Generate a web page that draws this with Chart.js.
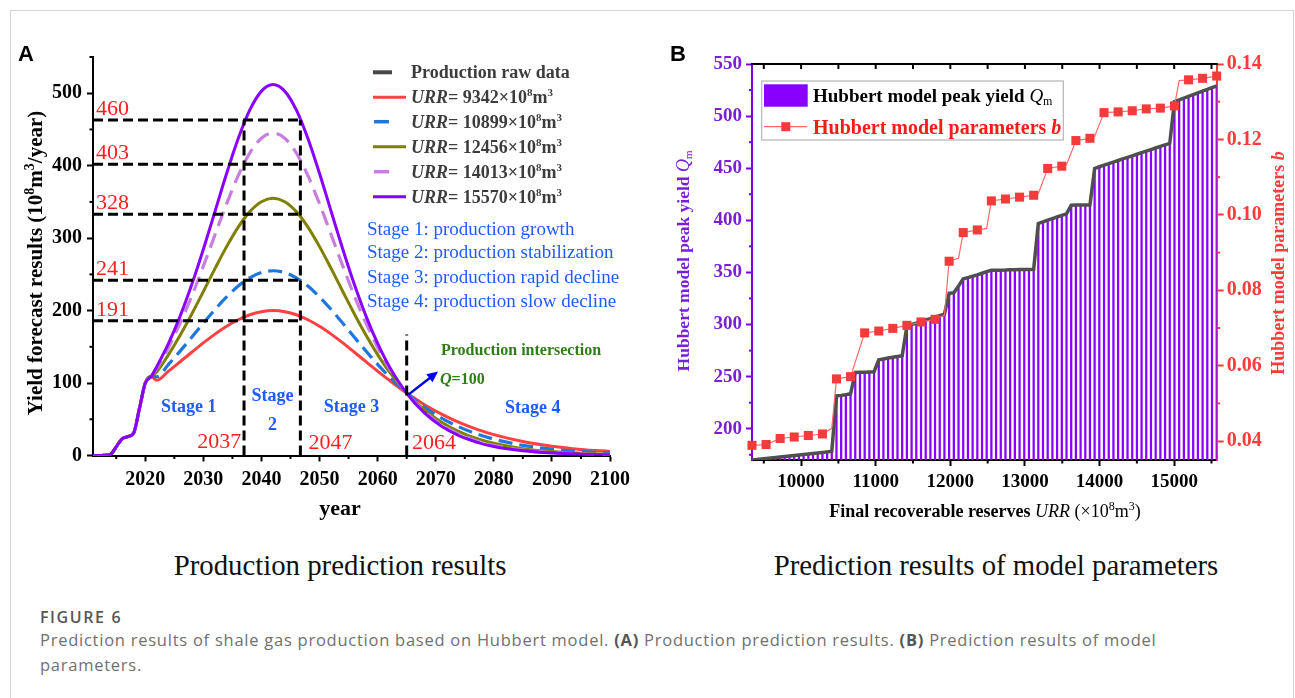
<!DOCTYPE html>
<html>
<head>
<meta charset="utf-8">
<script src="https://cdn.jsdelivr.net/npm/chart.js@4.4.1/dist/chart.umd.min.js"></script>
<style>
html, body { margin: 0; padding: 0; background: #fff; }
body { width: 1295px; height: 698px; position: relative; overflow: hidden; }
.frame { position: absolute; left: 10px; top: 10px; width: 1282px; height: 720px; border: 1px solid #d6d6d6; }
#boxA { position: absolute; left: 0; top: 0; width: 650px; height: 530px; }
#boxB { position: absolute; left: 650px; top: 0; width: 645px; height: 530px; }
.sub { position: absolute; top: 548px; line-height: 34px; font-family: "Liberation Serif", serif; font-size: 28.8px; color: #111; white-space: nowrap; transform: translateX(-50%); }
.figno { position: absolute; left: 40px; top: 607px; line-height: 20px; font-family: "Open Sans", sans-serif; font-weight: 600; font-size: 16px; color: #555; letter-spacing: 1.6px; }
.cap { position: absolute; left: 40px; top: 627px; width: 1180px; font-family: "Open Sans", sans-serif; font-size: 16.5px; letter-spacing: 0.75px; line-height: 25px; color: #707070; }
.cap b { color: #555; }
</style>
</head>
<body>
<div class="frame"></div>
<div id="boxA"><canvas id="chartA"></canvas></div>
<div id="boxB"><canvas id="chartB"></canvas></div>
<div class="sub" style="left:340px">Production prediction results</div>
<div class="sub" style="left:996px">Prediction results of model parameters</div>
<div class="figno">FIGURE 6</div>
<div class="cap">Prediction results of shale gas production based on Hubbert model. <b>(A)</b> Production prediction results. <b>(B)</b> Prediction results of model parameters.</div>

<script>
// ---------- panel A : production forecast ----------
const rawYears = [2011, 2012, 2013, 2014, 2015, 2016, 2017, 2018, 2019, 2020, 2021];
const rawProd = [0, 0, 0.3, 1.5, 12, 23, 26, 31, 65, 100, 109];

const fcYears = [2022, 2024, 2026, 2028, 2030, 2032, 2034, 2036, 2038, 2040, 2042,
  2044, 2046, 2048, 2050, 2052, 2054, 2056, 2058, 2060, 2062,
  2065, 2068, 2071, 2074, 2077, 2080, 2085, 2090, 2095, 2100];
const fc9342 = [103.8, 116.4, 129.4, 142.5, 155.4, 167.5, 178.3, 187.4, 194.3, 198.5, 200,
  198.5, 194.3, 187.4, 178.3, 167.5, 155.4, 142.5, 129.4, 116.4, 103.8,
  86.2, 70.5, 57.1, 45.7, 36.4, 28.8, 19.3, 12.8, 8.4, 5.5];
const fc10899 = [108.7, 125.8, 144.1, 163.2, 182.6, 201.5, 218.8, 233.8, 245.3, 252.5, 255,
  252.5, 245.3, 233.8, 218.8, 201.5, 182.6, 163.2, 144.1, 125.8, 108.7,
  86.1, 67.1, 51.7, 39.5, 30.0, 22.6, 14.0, 8.7, 5.3, 3.3];
const fc12456 = [115.7, 139.3, 166.0, 195.3, 226.4, 258.0, 288.3, 315.3, 336.6, 350.3, 355,
  350.3, 336.6, 315.3, 288.3, 258.0, 226.4, 195.3, 166.0, 139.3, 115.7,
  86.2, 63.2, 45.9, 33.1, 23.7, 16.9, 9.5, 5.4, 3.0, 1.7];
const fc14013 = [120.6, 149.1, 182.4, 220.1, 261.4, 304.7, 347.4, 386.2, 417.5, 437.9, 445,
  437.9, 417.5, 386.2, 347.4, 304.7, 261.4, 220.1, 182.4, 149.1, 120.6,
  86.3, 61.0, 42.6, 29.6, 20.4, 14.0, 7.5, 4.0, 2.1, 1.1];
const fc15570 = [123.0, 154.6, 192.3, 235.9, 284.7, 336.8, 389.1, 437.4, 476.9, 502.9, 512,
  502.9, 476.9, 437.4, 389.1, 336.8, 284.7, 235.9, 192.3, 154.6, 123.0,
  85.9, 59.2, 40.4, 27.4, 18.5, 12.4, 6.4, 3.3, 1.7, 0.9];
const urrNames = ['9342', '10899', '12456', '14013', '15570'];

const guideLevels = [463, 402, 333, 242, 186];
const guideLabels = ['460', '403', '328', '241', '191'];
const stageBounds = [2037, 2046.7];
const crossYear = 2065;
const crossTop = 167;
const stageYearLabels = ['2037', '2047', '2064'];

const aYearTicks = [2020, 2030, 2040, 2050, 2060, 2070, 2080, 2090, 2100];
const aYearMinor = [2015, 2025, 2035, 2045, 2055, 2065, 2075, 2085, 2095];
const aProdTicks = [0, 100, 200, 300, 400, 500];
const aProdMinor = [50, 150, 250, 350, 450, 550];

// ---------- panel B : model parameters ----------
const urrGrid = [9342, 9405, 9468, 9531, 9594, 9657, 9719, 9782, 9845, 9908,
  9971, 10034, 10097, 10160, 10223, 10286, 10349, 10411, 10474, 10537,
  10600, 10663, 10726, 10789, 10852, 10915, 10978, 11041, 11103, 11166,
  11229, 11292, 11355, 11418, 11481, 11544, 11607, 11670, 11733, 11795,
  11858, 11921, 11984, 12047, 12110, 12173, 12236, 12299, 12362, 12425,
  12487, 12550, 12613, 12676, 12739, 12802, 12865, 12928, 12991, 13054,
  13117, 13179, 13242, 13305, 13368, 13431, 13494, 13557, 13620, 13683,
  13746, 13809, 13871, 13934, 13997, 14060, 14123, 14186, 14249, 14312,
  14375, 14438, 14501, 14563, 14626, 14689, 14752, 14815, 14878, 14941,
  15004, 15067, 15130, 15193, 15255, 15318, 15381, 15444, 15507, 15570];
const peakQm = [170, 170.5, 171, 171.5, 171.9, 172.4, 172.9, 173.4, 173.9, 174.4,
  174.9, 175.3, 175.8, 176.3, 176.8, 177.3, 177.8, 178.3, 231.5, 232,
  232.7, 233.5, 254, 254.2, 254.3, 254.5, 254.7, 266.2, 267, 267.8,
  268.6, 269.4, 270, 298.5, 300, 301.4, 302.9, 304.3, 305.7, 307.2,
  308.6, 310, 330, 330.5, 337, 343.8, 345, 346.3, 347.6, 349.2,
  350.8, 352, 352.1, 352.2, 352.3, 352.5, 352.6, 352.7, 352.8, 352.9,
  353, 397, 398.6, 400.1, 401.6, 403.2, 404.7, 406.2, 414.5, 414.7,
  414.7, 414.7, 414.7, 449.8, 451.4, 452.9, 454.4, 455.9, 457.4, 458.9,
  460.4, 461.9, 463.4, 464.9, 466.4, 467.9, 469.4, 470.9, 472.4, 473.9,
  514, 515.5, 517.2, 518.9, 520.6, 522.3, 524, 525.6, 527.3, 529];
// b is known at these positions of the URR grid (markers on every 3rd one)
const bIdx = [0, 3, 6, 9, 12, 15, 17, 18, 21, 24, 27, 30, 33, 36, 39, 41, 42, 44, 45, 48,
  50, 51, 54, 57, 60, 61, 63, 66, 67, 69, 72, 73, 75, 78, 81, 84, 87, 90, 91, 93, 96, 99];
const bVal = [0.0389, 0.0391, 0.0407, 0.0411, 0.0415, 0.0419, 0.0434, 0.0565, 0.0571, 0.0687,
  0.0692, 0.0699, 0.0707, 0.0716, 0.0723, 0.0734, 0.0877, 0.0885, 0.0953, 0.0960,
  0.0964, 0.1037, 0.1042, 0.1047, 0.1052, 0.1056, 0.1123, 0.1129, 0.1133, 0.1197,
  0.1203, 0.1208, 0.1271, 0.1273, 0.1276, 0.1281, 0.1283, 0.1289, 0.1356, 0.1358,
  0.1362, 0.1368];

const bUrrTicks = [10000, 11000, 12000, 13000, 14000, 15000];
const bUrrMinor = [9500, 10500, 11500, 12500, 13500, 14500, 15500];
const bQmTicks = [200, 250, 300, 350, 400, 450, 500, 550];
const bQmMinor = [175, 225, 275, 325, 375, 425, 475, 525];
const bParTicks = [0.04, 0.06, 0.08, 0.10, 0.12, 0.14];
const bParMinor = [0.05, 0.07, 0.09, 0.11, 0.13];

const SERIF = '"Liberation Serif", "Times New Roman", serif';
const SANS = '"Liberation Sans", Arial, sans-serif';
function font(size, style) {
    return (style ? style + ' ' : '') + size + 'px ' + SERIF;
}

// draws a run of text pieces (bold/italic/superscript) one after another
function rich(ctx, parts, x, y, align) {
    let w = 0;
    for (const p of parts) { ctx.font = p.f; w += ctx.measureText(p.t).width; }
    let cx = align === 'center' ? x - w / 2 : (align === 'right' ? x - w : x);
    ctx.textAlign = 'left';
    ctx.textBaseline = 'alphabetic';
    for (const p of parts) {
        ctx.font = p.f;
        ctx.fillText(p.t, cx, y + (p.dy || 0));
        cx += ctx.measureText(p.t).width;
    }
}

function urrParts(v, size) {
    return [
        { t: 'URR', f: font(size, 'italic bold') },
        { t: '= ' + v + '×10', f: font(size, 'bold') },
        { t: '8', f: font(Math.round(size * 0.62), 'bold'), dy: -size * 0.4 },
        { t: 'm', f: font(size, 'bold') },
        { t: '3', f: font(Math.round(size * 0.62), 'bold'), dy: -size * 0.4 }
    ];
}

function seg(ctx, x1, y1, x2, y2) {
    ctx.beginPath();
    ctx.moveTo(x1, y1);
    ctx.lineTo(x2, y2);
    ctx.stroke();
}

function minorTicks(ctx, scale, values, len, side, color) {
    ctx.save();
    ctx.strokeStyle = color;
    ctx.lineWidth = 2;
    values.forEach(v => {
        const p = scale.getPixelForValue(v);
        if (side === 'bottom') seg(ctx, p, scale.top, p, scale.top + len);
        if (side === 'top') seg(ctx, p, scale.top, p, scale.top - len);
        if (side === 'left') seg(ctx, scale.right, p, scale.right - len, p);
        if (side === 'right') seg(ctx, scale.left, p, scale.left + len, p);
    });
    ctx.restore();
}

function series(vals) {
    return rawYears.map((yr, i) => ({ x: yr, y: rawProd[i] }))
        .concat(fcYears.map((yr, i) => ({ x: yr, y: vals[i] })));
}

const colRed = '#ff4141';
const colBlue = '#1f77dd';
const colOlive = '#7f7f00';
const colLilac = '#c77ee0';
const colPurple = '#8a00ff';
const stageBlue = '#1f5cff';

const annotateA = {
    id: 'annotateA',
    afterDatasetsDraw(chart) {
        const { ctx } = chart;
        const x = chart.scales.x, y = chart.scales.y;
        ctx.save();
        ctx.strokeStyle = '#000';
        ctx.lineWidth = 3;
        ctx.setLineDash([10, 5]);
        const xr = x.getPixelForValue(stageBounds[1]);
        guideLevels.forEach(v => {
            const py = y.getPixelForValue(v);
            seg(ctx, x.left, py, xr, py);
        });
        const topY = y.getPixelForValue(guideLevels[0]);
        stageBounds.forEach(yr => {
            const px = x.getPixelForValue(yr);
            seg(ctx, px, y.bottom, px, topY);
        });
        const cx = x.getPixelForValue(crossYear);
        seg(ctx, cx, y.bottom, cx, y.getPixelForValue(crossTop));
        ctx.setLineDash([]);

        // red value labels over the guides
        ctx.fillStyle = '#ff1f1f';
        ctx.font = font(22);
        ctx.textAlign = 'left';
        ctx.textBaseline = 'alphabetic';
        guideLevels.forEach((v, i) => {
            ctx.fillText(guideLabels[i], x.left + 3, y.getPixelForValue(v) - 5);
        });
        ctx.textBaseline = 'middle';
        ctx.textAlign = 'right';
        ctx.fillText(stageYearLabels[0], x.getPixelForValue(2036.5), y.getPixelForValue(19));
        ctx.textAlign = 'left';
        ctx.fillText(stageYearLabels[1], x.getPixelForValue(2048.1), y.getPixelForValue(17));
        ctx.fillText(stageYearLabels[2], x.getPixelForValue(2065.9), y.getPixelForValue(17));

        // stage names
        ctx.fillStyle = stageBlue;
        ctx.font = font(18, 'bold');
        ctx.textAlign = 'center';
        ctx.fillText('Stage 1', x.getPixelForValue(2027.5), y.getPixelForValue(66));
        ctx.fillText('Stage', x.getPixelForValue(2041.9), y.getPixelForValue(81));
        ctx.fillText('2', x.getPixelForValue(2041.9), y.getPixelForValue(42));
        ctx.fillText('Stage 3', x.getPixelForValue(2055.5), y.getPixelForValue(67));
        ctx.fillText('Stage 4', x.getPixelForValue(2086.7), y.getPixelForValue(65.5));

        // arrow at the intersection
        const ax1 = x.getPixelForValue(2065.3), ay1 = y.getPixelForValue(84);
        const ax2 = x.getPixelForValue(2070.4), ay2 = y.getPixelForValue(116);
        ctx.strokeStyle = '#0000f0';
        ctx.fillStyle = '#0000f0';
        ctx.lineWidth = 2.5;
        const ang = Math.atan2(ay2 - ay1, ax2 - ax1);
        seg(ctx, ax1, ay1, ax2 - 6 * Math.cos(ang), ay2 - 6 * Math.sin(ang));
        ctx.beginPath();
        ctx.moveTo(ax2, ay2);
        ctx.lineTo(ax2 - 11 * Math.cos(ang) + 5 * Math.sin(ang), ay2 - 11 * Math.sin(ang) - 5 * Math.cos(ang));
        ctx.lineTo(ax2 - 11 * Math.cos(ang) - 5 * Math.sin(ang), ay2 - 11 * Math.sin(ang) + 5 * Math.cos(ang));
        ctx.closePath();
        ctx.fill();
        ctx.restore();
    },
    afterDraw(chart) {
        const { ctx } = chart;
        const x = chart.scales.x, y = chart.scales.y;
        ctx.save();
        minorTicks(ctx, x, aYearMinor, 3.5, 'bottom', '#000');
        minorTicks(ctx, y, aProdMinor, 3.5, 'left', '#000');

        // panel letter
        ctx.fillStyle = '#000';
        ctx.font = 'bold 22px ' + SANS;
        ctx.textAlign = 'left';
        ctx.textBaseline = 'alphabetic';
        ctx.fillText('A', 18, 61);

        // axis titles
        ctx.font = font(22, 'bold');
        ctx.textAlign = 'center';
        ctx.fillText('year', 340, 515);
        ctx.save();
        ctx.translate(35, 263);
        ctx.rotate(-Math.PI / 2);
        rich(ctx, [
            { t: 'Yield forecast results (10', f: font(21, 'bold') },
            { t: '8', f: font(14, 'bold'), dy: -8 },
            { t: 'm', f: font(21, 'bold') },
            { t: '3', f: font(14, 'bold'), dy: -8 },
            { t: '/year)', f: font(21, 'bold') }
        ], 0, 7, 'center');
        ctx.restore();

        // legend
        const rows = [72.3, 97.3, 121.7, 146.7, 171.7, 196.7];
        const sw = [
            { c: '#474747', x1: 373, x2: 392, w: 4 },
            { c: colRed, x1: 373, x2: 406, w: 3 },
            { c: colBlue, x1: 374, x2: 389, w: 3.5 },
            { c: colOlive, x1: 373, x2: 406, w: 3 },
            { c: colLilac, x1: 374, x2: 389, w: 3.5 },
            { c: colPurple, x1: 373, x2: 406, w: 3 }
        ];
        rows.forEach((ry, i) => {
            ctx.strokeStyle = sw[i].c;
            ctx.lineWidth = sw[i].w;
            seg(ctx, sw[i].x1, ry, sw[i].x2, ry);
            ctx.fillStyle = '#3c3c3c';
            if (i === 0) {
                rich(ctx, [{ t: 'Production raw data', f: font(18, 'bold') }], 411, ry + 6, 'left');
            } else {
                rich(ctx, urrParts(urrNames[i - 1], 18), 411, ry + 6, 'left');
            }
        });

        // stage descriptions
        ctx.fillStyle = stageBlue;
        ctx.font = font(19);
        ctx.textAlign = 'left';
        ctx.textBaseline = 'middle';
        ['Stage 1: production growth', 'Stage 2: production stabilization',
            'Stage 3: production rapid decline', 'Stage 4: production slow decline']
            .forEach((s, i) => ctx.fillText(s, 367, [230, 253.5, 277.7, 301.7][i]));

        // intersection note
        ctx.fillStyle = '#2f7d17';
        ctx.font = font(16, 'bold');
        ctx.fillText('Production intersection', 441, 351);
        rich(ctx, [
            { t: 'Q', f: font(16, 'italic bold') },
            { t: '=100', f: font(16, 'bold') }
        ], 440, 384, 'left');
        ctx.restore();
    }
};

const chartA = new Chart(document.getElementById('chartA'), {
    type: 'line',
    data: {
        datasets: [
            { label: 'Production raw data', data: rawYears.map((yr, i) => ({ x: yr, y: rawProd[i] })), borderColor: '#474747', borderWidth: 3, order: 6 },
            { label: 'URR=9342', data: series(fc9342), borderColor: colRed, borderWidth: 3, order: 5 },
            { label: 'URR=10899', data: series(fc10899), borderColor: colBlue, borderWidth: 3.2, borderDash: [14, 7], order: 4 },
            { label: 'URR=12456', data: series(fc12456), borderColor: colOlive, borderWidth: 3, order: 3 },
            { label: 'URR=14013', data: series(fc14013), borderColor: colLilac, borderWidth: 3.2, borderDash: [15, 8], order: 2 },
            { label: 'URR=15570', data: series(fc15570), borderColor: colPurple, borderWidth: 3, order: 1 }
        ]
    },
    options: {
        responsive: true,
        maintainAspectRatio: false,
        animation: false,
        events: [],
        layout: { padding: { top: 57, right: 40, left: 0, bottom: 0 } },
        elements: { point: { radius: 0 }, line: { cubicInterpolationMode: 'monotone', fill: false } },
        plugins: { legend: { display: false }, tooltip: { enabled: false } },
        scales: {
            x: {
                type: 'linear', min: 2011, max: 2100,
                afterBuildTicks: s => { s.ticks = aYearTicks.map(v => ({ value: v })); },
                afterFit: s => { s.height = 74.5; },
                grid: { drawOnChartArea: false, tickLength: 6, tickWidth: 2, tickColor: '#000' },
                border: { color: '#000', width: 2 },
                ticks: { autoSkip: false, maxRotation: 0, padding: 6, color: '#000', font: { family: SERIF, size: 20, weight: 'bold' }, callback: v => String(v) }
            },
            y: {
                min: 0, max: 550,
                afterBuildTicks: s => { s.ticks = aProdTicks.map(v => ({ value: v })); },
                afterFit: s => { s.width = 93; },
                grid: { drawOnChartArea: false, tickLength: 6, tickWidth: 2, tickColor: '#000' },
                border: { color: '#000', width: 2 },
                ticks: { padding: 5, color: '#000', font: { family: SERIF, size: 20, weight: 'bold' }, callback: v => String(v) }
            }
        }
    },
    plugins: [annotateA]
});

// ---------- chart B ----------
const qmPurple = '#7a1fd6';
const bRed = '#ff3b3b';

const annotateB = {
    id: 'annotateB',
    afterDraw(chart) {
        const { ctx } = chart;
        const x = chart.scales.x, y = chart.scales.y, y2 = chart.scales.y2;
        ctx.save();
        // top frame line with inward ticks
        ctx.strokeStyle = '#000';
        ctx.lineWidth = 2;
        seg(ctx, x.left - 1, y.top, x.right + 1, y.top);
        bUrrTicks.concat(bUrrMinor).forEach(v => {
            const p = x.getPixelForValue(v);
            seg(ctx, p, y.top, p, y.top + 5);
        });
        minorTicks(ctx, x, bUrrMinor, 3.5, 'bottom', '#000');
        minorTicks(ctx, y, bQmMinor, 3, 'left', '#7b00d9');
        minorTicks(ctx, y2, bParMinor, 3.5, 'right', bRed);

        // panel letter
        ctx.fillStyle = '#000';
        ctx.font = 'bold 22px ' + SANS;
        ctx.textAlign = 'left';
        ctx.textBaseline = 'alphabetic';
        ctx.fillText('B', 20, 61);

        // axis titles
        ctx.fillStyle = '#000';
        rich(ctx, [
            { t: 'Final recoverable reserves ', f: font(18, 'bold') },
            { t: 'URR', f: font(18, 'italic') },
            { t: ' (×10', f: font(18) },
            { t: '8', f: font(12), dy: -7 },
            { t: 'm', f: font(18) },
            { t: '3', f: font(12), dy: -7 },
            { t: ')', f: font(18) }
        ], 335, 517, 'center');

        ctx.save();
        ctx.translate(33, 261);
        ctx.rotate(-Math.PI / 2);
        ctx.fillStyle = qmPurple;
        rich(ctx, [
            { t: 'Hubbert model peak yield ', f: font(17.5, 'bold') },
            { t: 'Q', f: font(18, 'italic') },
            { t: 'm', f: font(11), dy: 3 }
        ], 0, 6, 'center');
        ctx.restore();

        ctx.save();
        ctx.translate(628, 263);
        ctx.rotate(-Math.PI / 2);
        ctx.fillStyle = bRed;
        rich(ctx, [
            { t: 'Hubbert model parameters ', f: font(18, 'bold') },
            { t: 'b', f: font(18, 'italic bold') }
        ], 0, 6, 'center');
        ctx.restore();

        // legend box
        ctx.fillStyle = '#fff';
        ctx.fillRect(111.7, 81, 301.6, 59);
        ctx.strokeStyle = '#b4b4b4';
        ctx.lineWidth = 1.2;
        ctx.strokeRect(111.7, 81, 301.6, 59);
        ctx.fillStyle = colPurple;
        ctx.fillRect(114, 84.3, 43.7, 22.4);
        ctx.fillStyle = '#000';
        rich(ctx, [
            { t: 'Hubbert model peak yield ', f: font(19, 'bold') },
            { t: 'Q', f: font(19, 'italic') },
            { t: 'm', f: font(12), dy: 3 }
        ], 163, 101.5, 'left');
        ctx.strokeStyle = '#ff6a6a';
        ctx.lineWidth = 1.2;
        seg(ctx, 114, 126.7, 157, 126.7);
        ctx.fillStyle = '#f23b3b';
        ctx.fillRect(131.3, 122.2, 9, 9);
        ctx.fillStyle = '#ff1a1a';
        rich(ctx, [
            { t: 'Hubbert model parameters ', f: font(20, 'bold') },
            { t: 'b', f: font(20, 'italic bold') }
        ], 163, 133.7, 'left');
        ctx.restore();
    }
};

const qmPoints = urrGrid.map((u, i) => ({ x: u, y: peakQm[i] }));

const chartB = new Chart(document.getElementById('chartB'), {
    type: 'bar',
    data: {
        datasets: [
            {
                type: 'line', label: 'Hubbert model parameters b', yAxisID: 'y2',
                data: bIdx.map((k, j) => ({ x: urrGrid[k], y: bVal[j] })),
                borderColor: '#ff6a6a', borderWidth: 1.2, tension: 0,
                pointStyle: 'rect',
                pointRadius: c => (bIdx[c.dataIndex] % 3 === 0 ? 6.4 : 0),
                pointBackgroundColor: '#f23b3b', pointBorderWidth: 0,
                clip: false, order: 0
            },
            {
                type: 'line', label: 'Qm outline', yAxisID: 'y', data: qmPoints,
                borderColor: '#4f4f4f', borderWidth: 3.5, pointRadius: 0, tension: 0, order: 1
            },
            {
                type: 'bar', label: 'Hubbert model peak yield Qm', yAxisID: 'y', data: qmPoints,
                backgroundColor: colPurple, barThickness: 1.6, order: 2
            }
        ]
    },
    options: {
        responsive: true,
        maintainAspectRatio: false,
        animation: false,
        events: [],
        layout: { padding: { top: 64, right: 0, left: 0, bottom: 0 } },
        plugins: { legend: { display: false }, tooltip: { enabled: false } },
        scales: {
            x: {
                type: 'linear', min: 9342, max: 15570, offset: false,
                afterBuildTicks: s => { s.ticks = bUrrTicks.map(v => ({ value: v })); },
                afterFit: s => { s.height = 70; },
                grid: { offset: false, drawOnChartArea: false, tickLength: 6, tickWidth: 2, tickColor: '#000' },
                border: { color: '#000', width: 2 },
                ticks: { autoSkip: false, maxRotation: 0, padding: 5, color: '#000', font: { family: SERIF, size: 19, weight: 'bold' }, callback: v => String(v) }
            },
            y: {
                position: 'left', min: 170, max: 550,
                afterBuildTicks: s => { s.ticks = bQmTicks.map(v => ({ value: v })); },
                afterFit: s => { s.width = 102; },
                grid: { drawOnChartArea: false, tickLength: 6, tickWidth: 2, tickColor: '#7b00d9' },
                border: { color: '#7b00d9', width: 2 },
                ticks: { padding: 4, color: qmPurple, font: { family: SERIF, size: 19, weight: 'bold' }, callback: v => String(v) }
            },
            y2: {
                position: 'right', min: 0.035, max: 0.14,
                afterBuildTicks: s => { s.ticks = bParTicks.map(v => ({ value: v })); },
                afterFit: s => { s.width = 78.3; },
                grid: { drawOnChartArea: false, tickLength: 7, tickWidth: 2, tickColor: bRed },
                border: { color: bRed, width: 2 },
                ticks: { padding: 3, color: bRed, font: { family: SERIF, size: 20, weight: 'bold' }, callback: v => v.toFixed(2) }
            }
        }
    },
    plugins: [annotateB]
});
</script>
</body>
</html>
